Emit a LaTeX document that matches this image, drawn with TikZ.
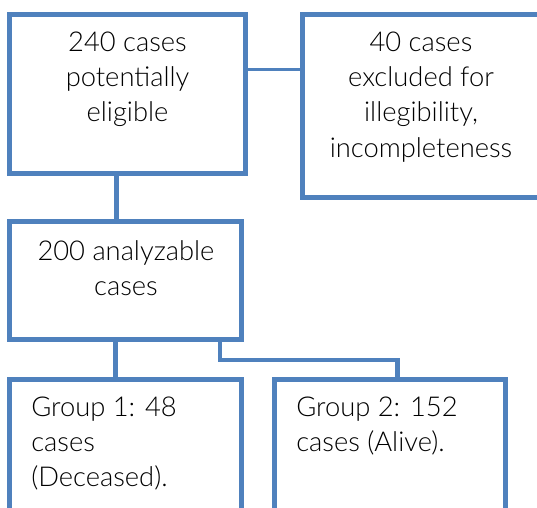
\documentclass[tikz,border=0pt]{standalone}
\usepackage{fontspec}
\setmainfont{Lato Light}
\usetikzlibrary{positioning}
\definecolor{boxblue}{HTML}{4F81BD}

\tikzset{
  box/.style={draw=boxblue, line width=3.75pt, rectangle, inner sep=0pt},
  link/.style={draw=boxblue, line width=3.4pt},
  thinlink/.style={draw=boxblue, line width=1.6pt},
  txt/.style={inner sep=0pt, font=\fontsize{20.5}{26.3}\selectfont}
}

\begin{document}
\begin{tikzpicture}[x=0.75pt,y=-0.75pt]
\useasboundingbox (0,0) rectangle (537,508);
\clip (0,0) rectangle (537,508);
	%top row
	\node[box, minimum width=177pt, minimum height=119.6pt] (a) at (127.5,93.75) {};
	\node[box, minimum width=178.1pt, minimum height=137.25pt] (b) at (421.25,106) {};
	\node[txt, align=center, anchor=north] (ta) at (127.5,32) {240 cases\\potentially\\eligible};
	\node[txt, align=center, anchor=north] (tb) at (421,32) {40 cases\\excluded for\\illegibility,\\incompleteness};
	%middle
	\node[box, minimum width=174pt, minimum height=88.5pt] (c) at (125.5,280.5) {};
	\node[txt, align=center, anchor=north] (tc) at (126,240) {200 analyzable\\cases};
	%groups
	\node[box, minimum width=174pt, minimum height=135.75pt] (g1) at (125.5,469.5) {};
	\node[box, minimum width=173.6pt, minimum height=135.75pt] (g2) at (390.25,469.5) {};
	\node[txt, align=left, anchor=north west] (tg1) at (31,397) {Group 1: 48\\cases\\(Deceased).};
	\node[txt, align=left, anchor=north west] (tg2) at (296,397) {Group 2: 152\\cases (Alive).};
	%connectors
	\draw[thinlink] ([yshift=18.2pt]a.east) -- ([yshift=18.2pt]a.east -| b.west);
	\draw[link] ([xshift=-8.25pt]a.south) -- ([xshift=-8.25pt]a.south |- c.north);
	\draw[link] ([xshift=-7.5pt]c.south) -- ([xshift=-7.5pt]c.south |- g1.north);
	\draw[link] ([xshift=70.9pt]c.south) -- ++(0,18) -| ([xshift=5.4pt]g2.north);
\end{tikzpicture}
\end{document}
